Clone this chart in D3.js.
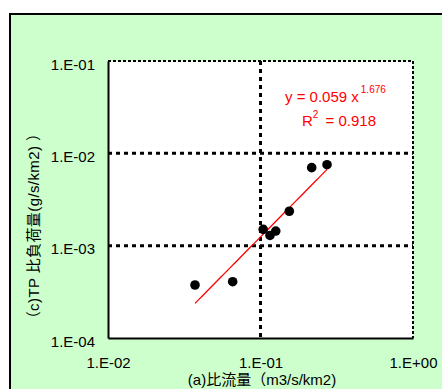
<!DOCTYPE html>
<html>
<head>
<meta charset="utf-8">
<script src="https://cdn.jsdelivr.net/npm/d3@7/dist/d3.min.js"></script>
<style>
  html, body { margin: 0; padding: 0; background: #ffffff; }
  svg { display: block; }
  text { font-family: "Liberation Sans", Arial, "Noto Sans CJK JP", sans-serif; }
</style>
</head>
<body>
<svg id="chart" width="442" height="389"></svg>
<script>
// Specific discharge (m3/s/km2) and TP specific load (g/s/km2)
const flow = [0.0372, 0.0657, 0.1042, 0.1154, 0.1259, 0.1545, 0.2166, 0.273];
const tpLoad = [0.000375, 0.000407, 0.00150, 0.00129, 0.00144, 0.00236, 0.0070, 0.00753];

// Power-law fit: y = a * x^b
const fitA = 0.059;
const fitB = 1.676;
const fitR2 = 0.918;

const xTicks = [0.01, 0.1, 1];
const xTickLabels = ["1.E-02", "1.E-01", "1.E+00"];
const yTicks = [0.0001, 0.001, 0.01, 0.1];
const yTickLabels = ["1.E-04", "1.E-03", "1.E-02", "1.E-01"];
const xGrid = [0.1];
const yGrid = [0.001, 0.01];

const xTitle = "(a)比流量（m3/s/km2)";
const yTitle = "（c)TP 比負荷量(g/s/km2) ）";

const svg = d3.select("#chart");

// Chart area background with frame
svg.append("rect")
  .attr("x", 10).attr("y", 14)
  .attr("width", 460).attr("height", 400)
  .attr("fill", "#ccffcc")
  .attr("stroke", "#000").attr("stroke-width", 2);

const plot = { left: 108, right: 413, top: 61, bottom: 338 };

const x = d3.scaleLog().domain([0.01, 1]).range([plot.left, plot.right]);
const y = d3.scaleLog().domain([0.0001, 0.1]).range([plot.bottom, plot.top]);

// Plot area
svg.append("rect")
  .attr("x", plot.left).attr("y", plot.top)
  .attr("width", plot.right - plot.left).attr("height", plot.bottom - plot.top)
  .attr("fill", "#fff");

// Dotted gridlines
const grid = svg.append("g")
  .attr("stroke", "#000").attr("stroke-width", 3)
  .attr("stroke-dasharray", "4,4");
grid.selectAll(".gx").data(xGrid).join("line")
  .attr("x1", d => x(d)).attr("x2", d => x(d))
  .attr("y1", plot.top).attr("y2", plot.bottom);
grid.selectAll(".gy").data(yGrid).join("line")
  .attr("x1", plot.left).attr("x2", plot.right)
  .attr("y1", d => y(d)).attr("y2", d => y(d));

// Top and right edges: fine dashes
svg.append("path")
  .attr("d", `M${plot.left},${plot.top}H${plot.right}V${plot.bottom}`)
  .attr("fill", "none").attr("stroke", "#000").attr("stroke-width", 2)
  .attr("stroke-dasharray", "3,2");

// Left and bottom axes
svg.append("g")
  .attr("transform", `translate(0,${plot.bottom})`)
  .call(d3.axisBottom(x).tickValues(xTicks).tickSize(0)
    .tickFormat((d, i) => xTickLabels[i]))
  .call(g => g.select(".domain").attr("stroke-width", 2))
  .call(g => g.selectAll("text")
    .attr("font-size", 15).attr("fill", "#000")
    .attr("font-family", "Liberation Sans, Arial, sans-serif")
    .attr("y", 30).attr("dy", 0));

svg.append("g")
  .attr("transform", `translate(${plot.left},0)`)
  .call(d3.axisLeft(y).tickValues(yTicks).tickSize(0)
    .tickFormat((d, i) => yTickLabels[yTicks.indexOf(d)]))
  .call(g => g.select(".domain").attr("stroke-width", 2))
  .call(g => g.selectAll("text")
    .attr("font-size", 15).attr("fill", "#000")
    .attr("font-family", "Liberation Sans, Arial, sans-serif")
    .attr("x", -13).attr("dy", "0.55em"));

// Fitted curve across the observed range
const [xmin, xmax] = d3.extent(flow);
const fitX = d3.range(0, 61).map(i => xmin * Math.pow(xmax / xmin, i / 60));
svg.append("path")
  .datum(fitX)
  .attr("fill", "none").attr("stroke", "#ff0000").attr("stroke-width", 1.3)
  .attr("d", d3.line().x(d => x(d)).y(d => y(fitA * Math.pow(d, fitB))));

// Observations
svg.append("g").selectAll("circle")
  .data(flow.map((f, i) => [f, tpLoad[i]]))
  .join("circle")
  .attr("cx", d => x(d[0])).attr("cy", d => y(d[1]))
  .attr("r", 4.8).attr("fill", "#000");

// Regression annotation
const ann = svg.append("g").attr("fill", "#ff0000");
const eq = ann.append("text").attr("x", 285).attr("y", 102).attr("font-size", 15);
eq.append("tspan").text(`y = ${fitA.toFixed(3)} x`);
eq.append("tspan").attr("font-size", 10).attr("dx", 2).attr("dy", -9).text(fitB.toFixed(3));
const r2 = ann.append("text").attr("x", 302).attr("y", 126).attr("font-size", 15);
r2.append("tspan").text("R");
r2.append("tspan").attr("font-size", 10).attr("dy", -8).text("2");
r2.append("tspan").attr("dy", 8).attr("dx", 3).text(` = ${fitR2.toFixed(3)}`);

// Axis titles
svg.append("text")
  .attr("x", 262).attr("y", 385)
  .attr("text-anchor", "middle").attr("font-size", 15).attr("fill", "#000")
  .text(xTitle);

svg.append("text")
  .attr("transform", "translate(39,226) rotate(-90)")
  .attr("text-anchor", "middle").attr("font-size", 15).attr("fill", "#000")
  .attr("letter-spacing", 0.4)
  .text(yTitle);
</script>
</body>
</html>
